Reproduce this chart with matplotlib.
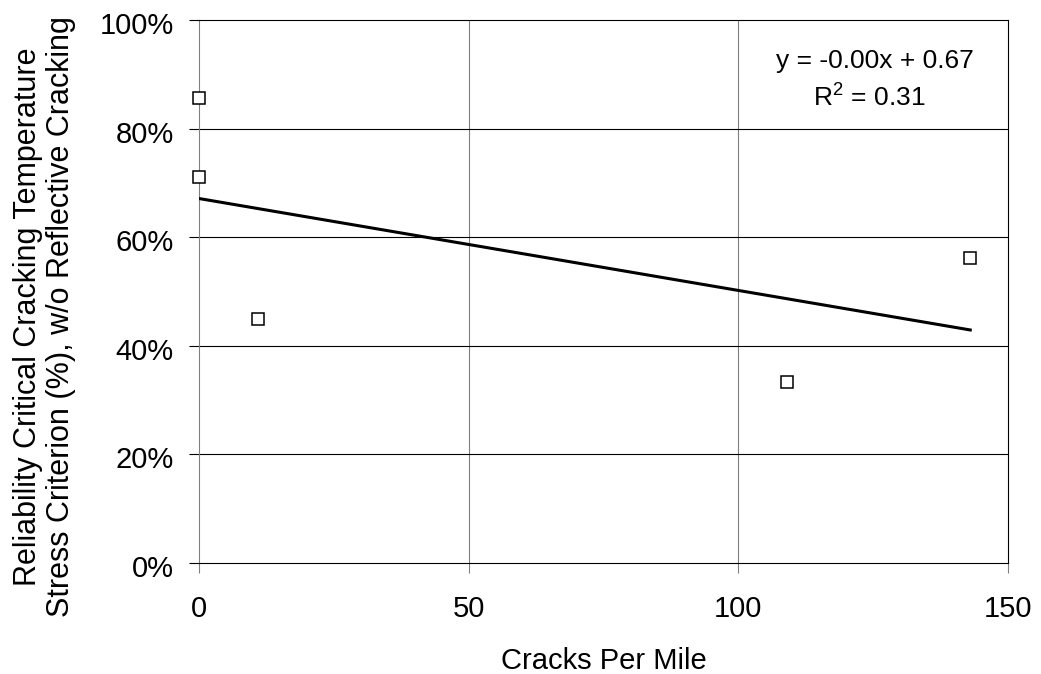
import matplotlib
matplotlib.use("Agg")
import matplotlib.pyplot as plt
import matplotlib.transforms as mtransforms
from matplotlib.ticker import PercentFormatter
import numpy as np

plt.rcParams['font.family'] = ['Liberation Sans', 'DejaVu Sans']
plt.rcParams['mathtext.fontset'] = 'custom'
plt.rcParams['mathtext.rm'] = 'Liberation Sans'

# cracks per mile vs. reliability (fraction)
cracks = [0, 0, 11, 109, 143]
reliability = [0.856, 0.711, 0.449, 0.333, 0.562]

xticks = [0, 50, 100, 150]
yticks = [0, 0.2, 0.4, 0.6, 0.8, 1.0]

fig = plt.figure(figsize=(10.41, 6.74), dpi=100)
ax = fig.add_axes([199 / 1041, 1 - 563 / 674, 809 / 1041, 543 / 674])

# linear trendline
slope, intercept = np.polyfit(cracks, reliability, 1)
pred = np.polyval([slope, intercept], cracks)
ss_res = np.sum((np.array(reliability) - pred) ** 2)
ss_tot = np.sum((np.array(reliability) - np.mean(reliability)) ** 2)
r2 = 1 - ss_res / ss_tot

xfit = np.array([min(cracks), max(cracks)])
ax.plot(xfit, slope * xfit + intercept, color='black', lw=2.2, zorder=3)

ax.plot(cracks, reliability, ls='none', marker='s', ms=8, mfc='white',
        mec='black', mew=1.1, zorder=4, clip_on=False)

ax.set_xlim(0, 150)
ax.set_ylim(0, 1.0)
ax.set_xticks(xticks)
ax.set_yticks(yticks)
ax.yaxis.set_major_formatter(PercentFormatter(1.0, decimals=0))

# gridlines: grey verticals, black horizontals
for x in xticks[1:-1]:
    ax.axvline(x, color='#808080', lw=0.8, zorder=1)
for y in yticks[1:-1]:
    ax.axhline(y, color='black', lw=0.8, zorder=1)

for side in ['top', 'right', 'bottom']:
    ax.spines[side].set_color('black')
    ax.spines[side].set_linewidth(0.8)
ax.spines['left'].set_color('#808080')
ax.spines['left'].set_linewidth(0.8)

ax.tick_params(axis='y', direction='out', length=7.2, width=0.8, color='black',
               labelsize=21, pad=11)
ax.tick_params(axis='x', direction='out', length=7.2, width=0.8, color='#808080',
               labelsize=21, pad=16)

# nudge y tick labels slightly below their gridlines
shift = mtransforms.ScaledTranslation(0, -3 / 100, fig.dpi_scale_trans)
for lbl in ax.get_yticklabels():
    lbl.set_transform(lbl.get_transform() + shift)

ax.set_xlabel('Cracks Per Mile', fontsize=21, labelpad=17)
ax.set_ylabel('Reliability Critical Cracking Temperature\n'
              'Stress Criterion (%), w/o Reflective Cracking',
              fontsize=22, linespacing=1.12)
ax.yaxis.set_label_coords(-0.152, 0.453)

# trendline equation and R^2
ax.text(125.4, 0.9116, 'y = {:.2f}x + {:.2f}'.format(slope, intercept),
        ha='center', va='baseline', fontsize=19)
ax.text(124.2, 0.8416, 'R$^{{2}}$ = {:.2f}'.format(r2),
        ha='center', va='baseline', fontsize=19)

fig.savefig('out.png', dpi=100)
